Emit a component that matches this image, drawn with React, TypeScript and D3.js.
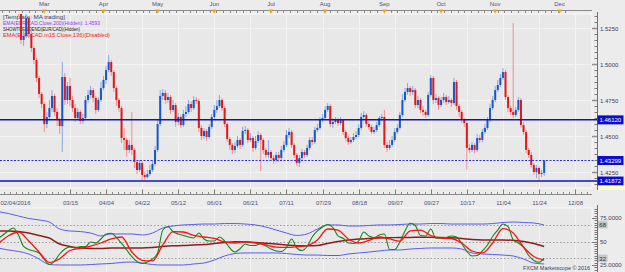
import React, { useEffect, useRef } from 'react';
import * as d3 from 'd3';

const W = 625;
const H = 272;

// daily EUR/CAD candles, first one is trading day index 7 (02/04/2016 = 0)
const firstIndex = 7;
const closes = [
  1.5410, 1.5361, 1.5167, 1.5194, 1.5319, 1.5208, 1.5111, 1.5028, 1.4903, 1.4792,
  1.4722, 1.4583, 1.4632, 1.4694, 1.4778, 1.4667, 1.4611, 1.4569, 1.4910, 1.4750,
  1.4847, 1.4750, 1.4694, 1.4625, 1.4667, 1.4604, 1.4625, 1.4750, 1.4785, 1.4819,
  1.4764, 1.4681, 1.4750, 1.4833, 1.4889, 1.4958, 1.5014, 1.4944, 1.4833, 1.4750,
  1.4694, 1.4486, 1.4472, 1.4403, 1.4438, 1.4403, 1.4319, 1.4264, 1.4313, 1.4229,
  1.4215, 1.4236, 1.4264, 1.4306, 1.4403, 1.4583, 1.4778, 1.4799, 1.4750, 1.4771,
  1.4681, 1.4715, 1.4597, 1.4632, 1.4576, 1.4653, 1.4667, 1.4722, 1.4694, 1.4750,
  1.4743, 1.4556, 1.4500, 1.4535, 1.4493, 1.4563, 1.4632, 1.4681, 1.4708, 1.4750,
  1.4694, 1.4583, 1.4479, 1.4438, 1.4403, 1.4431, 1.4472, 1.4438, 1.4535, 1.4542,
  1.4472, 1.4486, 1.4417, 1.4465, 1.4507, 1.4472, 1.4403, 1.4368, 1.4389, 1.4347,
  1.4333, 1.4368, 1.4347, 1.4403, 1.4438, 1.4507, 1.4528, 1.4438, 1.4368, 1.4313,
  1.4347, 1.4389, 1.4368, 1.4417, 1.4472, 1.4458, 1.4542, 1.4556, 1.4611, 1.4625,
  1.4681, 1.4708, 1.4583, 1.4597, 1.4611, 1.4590, 1.4611, 1.4528, 1.4486, 1.4458,
  1.4472, 1.4493, 1.4507, 1.4556, 1.4632, 1.4646, 1.4583, 1.4563, 1.4528, 1.4542,
  1.4576, 1.4625, 1.4632, 1.4438, 1.4417, 1.4438, 1.4472, 1.4528, 1.4556, 1.4646,
  1.4750, 1.4806, 1.4833, 1.4806, 1.4819, 1.4715, 1.4750, 1.4681, 1.4667, 1.4646,
  1.4785, 1.4903, 1.4750, 1.4764, 1.4715, 1.4750, 1.4771, 1.4736, 1.4750, 1.4729,
  1.4875, 1.4708, 1.4667, 1.4611, 1.4590, 1.4417, 1.4403, 1.4438, 1.4403, 1.4486,
  1.4472, 1.4528, 1.4556, 1.4611, 1.4694, 1.4750, 1.4819, 1.4854, 1.4903, 1.4944,
  1.4771, 1.4694, 1.4667, 1.4646, 1.4681, 1.4750, 1.4576, 1.4528, 1.4403, 1.4368,
  1.4299, 1.4250, 1.4278, 1.4236, 1.4243, 1.4330,
];
const highs = [
  1.5444, 1.5431, 1.5375, 1.5236, 1.5347, 1.5333, 1.5236, 1.5125, 1.5042, 1.4917,
  1.4806, 1.4736, 1.4667, 1.4750, 1.4819, 1.4792, 1.4694, 1.4625, 1.5014, 1.4937,
  1.4875, 1.4903, 1.4778, 1.4722, 1.4694, 1.4681, 1.4653, 1.4778, 1.4819, 1.4847,
  1.4833, 1.4778, 1.4771, 1.4875, 1.4917, 1.4986, 1.5063, 1.5028, 1.4958, 1.4847,
  1.4764, 1.4708, 1.4556, 1.4486, 1.4472, 1.4667, 1.4417, 1.4333, 1.4333, 1.4326,
  1.4250, 1.4264, 1.4299, 1.4333, 1.4431, 1.4611, 1.4819, 1.4826, 1.4819, 1.4799,
  1.4785, 1.4750, 1.4729, 1.4660, 1.4646, 1.4681, 1.4708, 1.4750, 1.4743, 1.4778,
  1.4771, 1.4757, 1.4576, 1.4556, 1.4549, 1.4583, 1.4653, 1.4715, 1.4750, 1.4785,
  1.4764, 1.4708, 1.4597, 1.4493, 1.4451, 1.4458, 1.4500, 1.4486, 1.4563, 1.4569,
  1.4556, 1.4521, 1.4500, 1.4500, 1.4535, 1.4521, 1.4486, 1.4417, 1.4472, 1.4403,
  1.4368, 1.4389, 1.4389, 1.4431, 1.4465, 1.4542, 1.4556, 1.4542, 1.4451, 1.4382,
  1.4368, 1.4410, 1.4403, 1.4438, 1.4493, 1.4493, 1.4563, 1.4583, 1.4632, 1.4653,
  1.4708, 1.4729, 1.4722, 1.4625, 1.4632, 1.4625, 1.4632, 1.4618, 1.4542, 1.4500,
  1.4493, 1.4521, 1.4535, 1.4583, 1.4660, 1.4674, 1.4660, 1.4604, 1.4576, 1.4563,
  1.4597, 1.4639, 1.4653, 1.4681, 1.4458, 1.4472, 1.4500, 1.4556, 1.4583, 1.4667,
  1.4792, 1.4833, 1.4868, 1.4847, 1.4847, 1.4833, 1.4778, 1.4764, 1.4708, 1.4681,
  1.4806, 1.4924, 1.4917, 1.4792, 1.4778, 1.4771, 1.4799, 1.4785, 1.4778, 1.4764,
  1.4903, 1.4889, 1.4722, 1.4681, 1.4625, 1.4604, 1.4444, 1.4458, 1.4451, 1.4514,
  1.4507, 1.4549, 1.4583, 1.4632, 1.4722, 1.4778, 1.4847, 1.4889, 1.4931, 1.4972,
  1.4958, 1.4785, 1.4715, 1.5285, 1.4701, 1.4771, 1.4764, 1.4597, 1.4542, 1.4417,
  1.4389, 1.4313, 1.4299, 1.4292, 1.4264, 1.4333,
];
const lows = [
  1.5375, 1.5333, 1.5139, 1.5125, 1.5181, 1.5181, 1.5083, 1.5000, 1.4875, 1.4764,
  1.4694, 1.4528, 1.4556, 1.4611, 1.4667, 1.4639, 1.4569, 1.4514, 1.4389, 1.4715,
  1.4722, 1.4708, 1.4667, 1.4597, 1.4611, 1.4583, 1.4583, 1.4611, 1.4729, 1.4764,
  1.4736, 1.4653, 1.4667, 1.4736, 1.4819, 1.4861, 1.4944, 1.4917, 1.4806, 1.4708,
  1.4667, 1.4451, 1.4403, 1.4354, 1.4382, 1.4368, 1.4278, 1.4236, 1.4250, 1.4194,
  1.4194, 1.4201, 1.4222, 1.4250, 1.4292, 1.4389, 1.4569, 1.4750, 1.4722, 1.4729,
  1.4653, 1.4667, 1.4563, 1.4576, 1.4556, 1.4563, 1.4632, 1.4653, 1.4667, 1.4681,
  1.4722, 1.4528, 1.4472, 1.4479, 1.4465, 1.4479, 1.4549, 1.4618, 1.4660, 1.4694,
  1.4674, 1.4563, 1.4458, 1.4403, 1.4375, 1.4382, 1.4417, 1.4410, 1.4424, 1.4514,
  1.4451, 1.4458, 1.4389, 1.4403, 1.4451, 1.4257, 1.4375, 1.4347, 1.4347, 1.4326,
  1.4306, 1.4319, 1.4319, 1.4333, 1.4389, 1.4424, 1.4486, 1.4417, 1.4347, 1.4292,
  1.4285, 1.4333, 1.4347, 1.4354, 1.4403, 1.4438, 1.4444, 1.4528, 1.4542, 1.4597,
  1.4611, 1.4667, 1.4563, 1.4556, 1.4583, 1.4569, 1.4576, 1.4507, 1.4465, 1.4438,
  1.4444, 1.4458, 1.4479, 1.4493, 1.4542, 1.4618, 1.4563, 1.4542, 1.4514, 1.4514,
  1.4528, 1.4563, 1.4604, 1.4417, 1.4389, 1.4403, 1.4424, 1.4458, 1.4514, 1.4542,
  1.4632, 1.4736, 1.4785, 1.4778, 1.4785, 1.4694, 1.4694, 1.4660, 1.4639, 1.4625,
  1.4632, 1.4771, 1.4722, 1.4729, 1.4681, 1.4701, 1.4729, 1.4715, 1.4722, 1.4701,
  1.4715, 1.4681, 1.4632, 1.4590, 1.4563, 1.4264, 1.4382, 1.4389, 1.4382, 1.4389,
  1.4451, 1.4458, 1.4514, 1.4542, 1.4597, 1.4681, 1.4736, 1.4806, 1.4840, 1.4889,
  1.4750, 1.4667, 1.4646, 1.4625, 1.4632, 1.4667, 1.4556, 1.4507, 1.4382, 1.4347,
  1.4278, 1.4229, 1.4208, 1.4188, 1.4215, 1.4222,
];

// horizontal levels drawn on the price panel
const levelValues = [1.4612, 1.43299, 1.41872];
const levelLabels = ['1.46120', '1.43299', '1.41872'];
const priceTicks = [1.425, 1.45, 1.475, 1.5, 1.525];

// time axes (trading-day index)
const monthLabels = ['Mar', 'Apr', 'May', 'Jun', 'Jul', 'Aug', 'Sep', 'Oct', 'Nov', 'Dec'];
const monthIndex = [18, 41, 62, 84, 106, 127, 150, 172, 193, 218];
const dateLabels = ['02/04/2016', '03/15', '04/04', '04/22', '05/12', '06/01', '06/21', '07/11',
  '07/29', '08/18', '09/07', '09/27', '10/17', '11/04', '11/24', '12/08'];
const dateIndex = [0, 28, 42, 56, 70, 84, 98, 112, 126, 140, 154, 168, 182, 196, 210, 224];

// oscillator (TDI) - green sampled every 2 bars, the others every 4 bars, from index 0
const rsiLine = [
  52.7, 56.9, 61.2, 64.4, 56.9, 44.7, 41.5, 39.9, 37.8, 30.9,
  25.5, 29.3, 36.7, 42.0, 44.1, 43.1, 44.5, 44.5, 49.5, 48.4,
  52.7, 58.0, 58.7, 54.3, 47.9, 41.0, 34.0, 28.7, 26.6, 28.2,
  31.4, 37.8, 62.2, 65.7, 60.4, 58.0, 56.4, 54.8, 53.7, 59.0,
  52.7, 50.5, 50.5, 54.8, 50.5, 43.1, 38.8, 42.3, 47.3, 45.7,
  45.7, 47.9, 45.2, 42.0, 39.9, 39.4, 43.6, 52.7, 43.1, 40.4,
  44.7, 54.8, 61.2, 65.4, 68.1, 64.9, 55.9, 53.4, 48.4, 47.9,
  50.5, 60.1, 55.9, 54.3, 56.9, 58.0, 41.5, 41.5, 49.5, 61.2,
  69.4, 67.0, 56.4, 55.9, 63.3, 53.4, 53.4, 54.3, 55.9, 54.8,
  47.9, 39.4, 34.6, 35.1, 39.9, 46.3, 55.3, 62.2, 68.6, 65.7,
  51.6, 48.4, 43.6, 35.1, 29.8, 27.9, 32.4,
];
const signalLine = [
  47.3, 55.9, 60.1, 50.5, 38.8, 27.7, 31.7, 40.4, 42.8, 45.2,
  48.4, 52.7, 54.8, 38.8, 30.0, 29.3, 46.3, 60.4, 60.1, 56.4,
  54.8, 53.2, 49.5, 48.4, 49.8, 48.4, 46.3, 44.1, 43.8, 44.5,
  45.7, 51.6, 63.3, 62.2, 52.7, 48.4, 51.1, 54.8, 52.7, 50.5,
  61.2, 62.2, 56.4, 53.7, 53.2, 48.4, 39.9, 37.8, 48.4, 63.8,
  59.0, 44.1, 34.0, 30.3,
];
const baseLine = [
  61.2, 61.2, 60.6, 59.0, 56.4, 53.7, 47.3, 44.7, 43.1, 42.6,
  42.6, 43.1, 43.1, 43.1, 43.1, 43.6, 44.7, 45.5, 45.7, 46.3,
  46.8, 47.9, 48.9, 49.8, 49.5, 48.9, 48.1, 47.3, 46.3, 45.5,
  45.5, 45.7, 47.9, 50.0, 51.6, 52.7, 53.2, 53.7, 54.0, 54.3,
  54.3, 54.5, 54.5, 54.3, 53.9, 53.2, 52.1, 51.6, 51.6, 51.6,
  51.3, 50.0, 47.9, 44.7,
];
const upperBand = [
  81.9, 79.8, 77.1, 74.5, 72.9, 70.7, 63.3, 61.2, 60.6, 59.0,
  55.9, 58.0, 58.0, 58.0, 56.9, 59.0, 64.4, 66.5, 67.6, 68.1,
  68.6, 68.6, 69.1, 69.1, 68.6, 67.6, 65.4, 62.2, 59.0, 56.4,
  58.0, 63.3, 67.6, 67.6, 66.5, 66.5, 67.0, 67.6, 67.6, 68.1,
  68.6, 68.6, 69.1, 69.1, 68.6, 68.6, 68.6, 68.6, 69.1, 70.2,
  70.7, 70.2, 69.7, 67.6,
];
const lowerBand = [
  43.1, 41.0, 39.4, 36.7, 31.4, 25.5, 25.0, 25.0, 25.0, 25.5,
  26.1, 26.6, 27.7, 28.2, 27.1, 25.5, 25.0, 25.0, 25.0, 26.1,
  27.1, 30.3, 34.6, 37.2, 37.8, 37.8, 37.8, 37.8, 37.2, 36.2,
  35.6, 35.6, 35.1, 35.1, 36.7, 37.8, 38.8, 39.9, 41.0, 41.0,
  42.0, 42.6, 43.1, 43.1, 43.1, 42.0, 37.8, 36.7, 36.2, 35.6,
  34.6, 31.4, 27.1, 26.1,
];
const oscLevels = [68, 50, 32];

const legendLines = [
  { text: '[Template: MA trading]', color: '#3c3c70', len: 62 },
  { text: 'EMA(EUR/CAD.Close,200)(Hidden): 1.4593', color: '#9a33ee', len: 97 },
  { text: 'SHOWTRENDEND(EUR/CAD)(Hidden)', color: '#111111', len: 77 },
  { text: 'EMA(EUR/CAD.m15.Close,136)(Disabled)', color: '#ee2222', len: 107 },
];

const FONT = '"Liberation Sans", Arial, sans-serif';

const App = () => {
  const svgRef = useRef<SVGSVGElement>(null);

  useEffect(() => {
    const svg = d3.select(svgRef.current);
    svg.selectAll('*').remove();

    const panelRight = 592;
    const axisX = 597;
    const main = { top: 14, bottom: 188 };
    const osc = { top: 208, bottom: 280 };

    const x = d3.scaleLinear().domain([28, 210]).range([70, 539]);
    const y = d3.scaleLinear().domain([1.425, 1.525]).range([172, 28]);
    const yo = d3.scaleLinear().domain([25, 75]).range([265, 218]);

    svg.append('rect').attr('width', W).attr('height', H).attr('fill', '#ececec');

    const defs = svg.append('defs');
    defs.append('clipPath').attr('id', 'clipMain').append('rect')
      .attr('x', 0).attr('y', main.top).attr('width', panelRight).attr('height', main.bottom - main.top);
    defs.append('clipPath').attr('id', 'clipOsc').append('rect')
      .attr('x', 0).attr('y', osc.top).attr('width', panelRight).attr('height', osc.bottom - osc.top);

    // panels
    [main, osc].forEach(p => {
      svg.append('rect')
        .attr('x', -1).attr('y', p.top).attr('width', panelRight + 1).attr('height', p.bottom - p.top)
        .attr('fill', '#e8e8e8').attr('stroke', '#f8f8f8').attr('stroke-width', 1);
    });

    // grid
    const grid = svg.append('g').attr('stroke', '#f3f3f3').attr('stroke-width', 1);
    dateIndex.slice(1).forEach(d => {
      const gx = Math.round(x(d)) + 0.5;
      if (gx > panelRight) return;
      grid.append('line').attr('x1', gx).attr('x2', gx).attr('y1', main.top).attr('y2', main.bottom);
      grid.append('line').attr('x1', gx).attr('x2', gx).attr('y1', osc.top).attr('y2', H);
    });
    priceTicks.forEach(t => {
      const gy = Math.round(y(t)) + 0.5;
      grid.append('line').attr('x1', 0).attr('x2', panelRight).attr('y1', gy).attr('y2', gy);
    });

    // top month axis
    const top = svg.append('g');
    top.append('line').attr('x1', 0).attr('x2', panelRight).attr('y1', 10.5).attr('y2', 10.5)
      .attr('stroke', '#8a8a8a');
    d3.range(-1, 222, 2.6).forEach(t => {
      const tx = Math.round(x(t)) + 0.5;
      top.append('line').attr('x1', tx).attr('x2', tx).attr('y1', 10.5).attr('y2', 13)
        .attr('stroke', '#8a8a8a');
    });
    monthLabels.forEach((m, k) => {
      const mx = x(monthIndex[k]);
      top.append('text').attr('x', mx).attr('y', 6.3).attr('text-anchor', 'middle')
        .attr('font-family', FONT).attr('font-size', 6).attr('fill', '#50507a').text(m);
      top.append('path')
        .attr('d', `M${mx - 2.2},9.5L${mx + 2.2},9.5L${mx},13.8Z`)
        .attr('fill', '#f5a31c');
    });

    // legend text
    legendLines.forEach((l, k) => {
      svg.append('text').attr('x', 3).attr('y', 19.3 + k * 5.8)
        .attr('font-family', FONT).attr('font-size', 5.6).attr('fill', l.color)
        .attr('textLength', l.len).attr('lengthAdjust', 'spacingAndGlyphs')
        .text(l.text);
    });

    // candles
    const candles = closes.map((c, k) => ({
      i: firstIndex + k,
      o: k === 0 ? c : closes[k - 1],
      h: highs[k],
      l: lows[k],
      c,
    }));
    const cg = svg.append('g').attr('clip-path', 'url(#clipMain)');
    candles.forEach(d => {
      const up = d.c >= d.o;
      const cx = x(d.i);
      cg.append('line')
        .attr('x1', cx).attr('x2', cx).attr('y1', y(d.h)).attr('y2', y(d.l))
        .attr('stroke', up ? '#86a8e2' : '#ef8e8e').attr('stroke-width', 1);
      const y0 = y(Math.max(d.o, d.c));
      const y1 = y(Math.min(d.o, d.c));
      cg.append('rect')
        .attr('x', cx - 1).attr('y', y0).attr('width', 2).attr('height', Math.max(1, y1 - y0))
        .attr('fill', up ? '#1656cf' : '#e31717');
    });

    // level lines
    levelValues.forEach((v, k) => {
      const ly = y(v);
      svg.append('line').attr('x1', 0).attr('x2', axisX).attr('y1', ly).attr('y2', ly)
        .attr('stroke', k === 1 ? '#2a2ae6' : '#1414b4')
        .attr('stroke-width', k === 1 ? 1 : 1.5)
        .attr('stroke-dasharray', k === 1 ? '2,1.5' : null);
    });

    // price axis
    const ax = svg.append('g');
    ax.append('line').attr('x1', axisX + 0.5).attr('x2', axisX + 0.5).attr('y1', 12).attr('y2', 190)
      .attr('stroke', '#707070');
    d3.range(1.4167, 1.535, 0.025 / 6).forEach(t => {
      const ty = Math.round(y(t)) + 0.5;
      if (ty < 14 || ty > 188) return;
      ax.append('line').attr('x1', axisX - 2.5).attr('x2', axisX).attr('y1', ty).attr('y2', ty)
        .attr('stroke', '#7a7a7a');
    });
    priceTicks.forEach(t => {
      const ty = Math.round(y(t)) + 0.5;
      ax.append('line').attr('x1', axisX - 5).attr('x2', axisX).attr('y1', ty).attr('y2', ty)
        .attr('stroke', '#909090').attr('stroke-width', 1.5);
      ax.append('text').attr('x', 600).attr('y', ty + 2.2)
        .attr('font-family', FONT).attr('font-size', 6).attr('fill', '#40405a')
        .text(d3.format('.4f')(t));
    });
    levelValues.forEach((v, k) => {
      const ly = y(v);
      ax.append('rect').attr('x', 597.5).attr('y', ly - 4.5).attr('width', 26).attr('height', 9)
        .attr('fill', '#0c0cd2');
      ax.append('text').attr('x', 599.5).attr('y', ly + 2.3)
        .attr('font-family', FONT).attr('font-size', 6).attr('fill', '#ffffff')
        .text(levelLabels[k]);
    });
    ax.append('rect').attr('x', 598).attr('y', 185.5).attr('width', 27).attr('height', 4.5)
      .attr('fill', '#ffffc8');

    // date axis
    const da = svg.append('g');
    da.append('line').attr('x1', 0).attr('x2', panelRight).attr('y1', 194.5).attr('y2', 194.5)
      .attr('stroke', '#8a8a8a');
    d3.range(0, 232, 14 / 6).forEach(t => {
      const tx = Math.round(x(t)) + 0.5;
      if (tx < 0 || tx > panelRight) return;
      da.append('line').attr('x1', tx).attr('x2', tx).attr('y1', 192).attr('y2', 194.5)
        .attr('stroke', '#8a8a8a');
    });
    dateLabels.forEach((lab, k) => {
      const tx = Math.round(x(dateIndex[k])) + 0.5;
      if (k > 0) {
        da.append('line').attr('x1', tx).attr('x2', tx).attr('y1', 189.5).attr('y2', 194.5)
          .attr('stroke', '#7a7a7a');
      }
      da.append('text')
        .attr('x', k === 0 ? 0.5 : tx).attr('y', 205)
        .attr('text-anchor', k === 0 ? 'start' : 'middle')
        .attr('font-family', FONT).attr('font-size', 6).attr('fill', '#50507a')
        .text(lab);
    });

    // oscillator levels
    const og = svg.append('g').attr('clip-path', 'url(#clipOsc)');
    oscLevels.forEach(v => {
      const ly = Math.round(yo(v)) + 0.5;
      og.append('line').attr('x1', 0).attr('x2', panelRight).attr('y1', ly).attr('y2', ly)
        .attr('stroke', '#9c9c9c').attr('stroke-dasharray', '1.5,2');
    });

    const drawLine = (vals: number[], step: number, color: string, width: number) => {
      const line = d3.line<number>()
        .x((_, k) => x(k * step))
        .y(v => yo(v))
        .curve(d3.curveMonotoneX);
      og.append('path').attr('d', line(vals))
        .attr('fill', 'none').attr('stroke', color).attr('stroke-width', width);
    };
    drawLine(upperBand, 4, '#5a5af0', 1);
    drawLine(lowerBand, 4, '#5a5af0', 1);
    drawLine(baseLine, 4, '#8e1c1c', 1.5);
    drawLine(rsiLine, 2, '#14861a', 1.1);
    drawLine(signalLine, 4, '#ff1010', 1.3);

    // oscillator axis
    const oa = svg.append('g');
    oa.append('line').attr('x1', axisX + 0.5).attr('x2', axisX + 0.5).attr('y1', 205).attr('y2', H)
      .attr('stroke', '#707070');
    d3.range(20, 86, 2.5).forEach(t => {
      const ty = Math.round(yo(t)) + 0.5;
      if (ty < 206) return;
      const major = t % 25 === 0;
      oa.append('line').attr('x1', axisX - (major ? 5 : 2.5)).attr('x2', axisX).attr('y1', ty).attr('y2', ty)
        .attr('stroke', '#7a7a7a');
    });
    [75, 50, 25].forEach(t => {
      oa.append('text').attr('x', 600).attr('y', yo(t) + 2.2)
        .attr('font-family', FONT).attr('font-size', 6).attr('fill', '#40405a')
        .text(t === 50 ? '50' : d3.format('.4f')(t));
    });
    [68, 32].forEach(t => {
      oa.append('rect').attr('x', 598).attr('y', yo(t) - 3.8).attr('width', 9.5).attr('height', 7.6)
        .attr('fill', '#c6c6c6');
      oa.append('text').attr('x', 599.3).attr('y', yo(t) + 2.2)
        .attr('font-family', FONT).attr('font-size', 6).attr('fill', '#303040')
        .text(String(t));
    });

    svg.append('text').attr('x', 590).attr('y', 269.5).attr('text-anchor', 'end')
      .attr('font-family', FONT).attr('font-size', 6.2).attr('fill', '#3c3c5c')
      .attr('textLength', 67).attr('lengthAdjust', 'spacingAndGlyphs')
      .text('FXCM Marketscope \u00a9 2016');
  }, []);

  return (
    <svg
      ref={svgRef}
      width={W}
      height={H}
      style={{ position: 'absolute', left: 0, top: 0, display: 'block' }}
    />
  );
};

export default App;
